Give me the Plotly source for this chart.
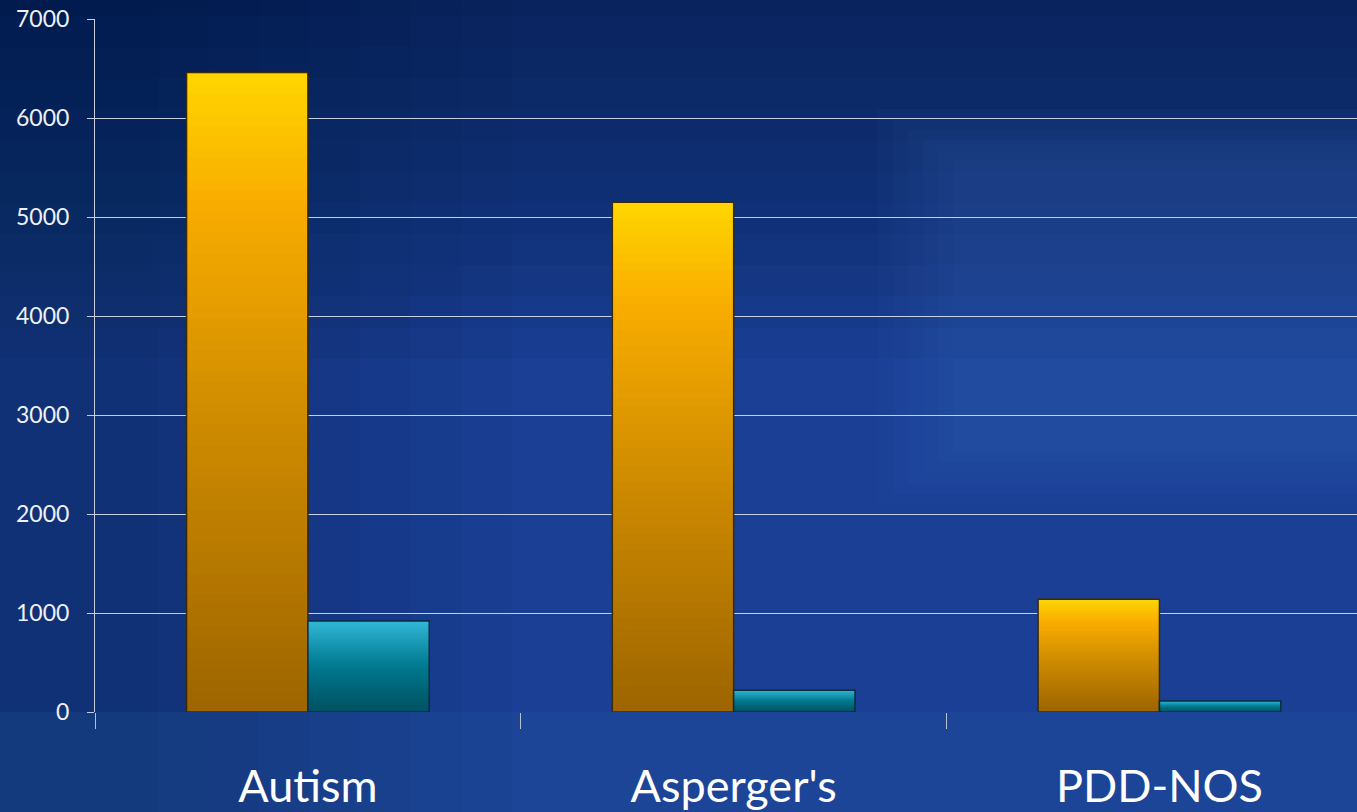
import plotly.graph_objects as go

categories = ["Autism", "Asperger's", "PDD-NOS"]
series_a = [6460, 5150, 1140]   # gold bars
series_b = [920, 220, 110]      # teal bars
y_ticks = [0, 1000, 2000, 3000, 4000, 5000, 6000, 7000]

W, H = 1357, 812
BAR_W = 0.285
STEPS = 60


def lerp(c1, c2, t):
    return tuple(int(round(a + (b - a) * t)) for a, b in zip(c1, c2))


def grad(stops, t):
    for (p0, c0), (p1, c1) in zip(stops, stops[1:]):
        if p0 <= t <= p1:
            return lerp(c0, c1, (t - p0) / (p1 - p0) if p1 > p0 else 0)
    return stops[-1][1]


gold_stops = [(0.0, (156, 100, 0)), (0.45, (205, 138, 0)), (0.8, (248, 172, 0)), (1.0, (255, 212, 0))]
teal_stops = [(0.0, (0, 80, 96)), (0.5, (0, 120, 142)), (1.0, (48, 182, 214))]

fig = go.Figure()


def add_gradient_bars(values, stops, offset, edge):
    for k in range(STEPS, 0, -1):
        frac = k / STEPS
        r, g, b = grad(stops, frac)
        fig.add_trace(go.Bar(
            x=categories, y=[v * frac for v in values],
            offset=offset, width=BAR_W,
            marker=dict(color=f"rgb({r},{g},{b})", line=dict(width=0)),
            hoverinfo="skip", showlegend=False,
        ))
    fig.add_trace(go.Bar(
        x=categories, y=values, offset=offset, width=BAR_W,
        marker=dict(color="rgba(0,0,0,0)", line=dict(color=edge, width=1.5)),
        showlegend=False,
    ))


add_gradient_bars(series_a, gold_stops, -BAR_W, "#3a2a05")
add_gradient_bars(series_b, teal_stops, 0.0, "#0a2c3c")

# soft background: stacked translucent bands
shapes = []
for i in range(12):
    shapes.append(dict(type="rect", xref="paper", yref="paper", x0=-0.1, x1=1.0,
                       y0=1.05 - (i + 1) * 0.045, y1=1.05,
                       fillcolor="rgba(5,18,55,0.06)", line_width=0, layer="below"))
for i in range(8):
    shapes.append(dict(type="rect", xref="paper", yref="paper", x0=-0.1, x1=0.05 + i * 0.04,
                       y0=-0.2, y1=1.05,
                       fillcolor="rgba(5,18,60,0.04)", line_width=0, layer="below"))
for i in range(6):
    shapes.append(dict(type="rect", xref="paper", yref="paper",
                       x0=0.62 + i * 0.012, x1=1.0, y0=0.3 + i * 0.015, y1=0.87 - i * 0.015,
                       fillcolor="rgba(80,140,210,0.04)", line_width=0, layer="below"))
shapes.append(dict(type="rect", xref="paper", yref="paper", x0=-0.1, x1=1.0, y0=-0.2, y1=0.0,
                   fillcolor="rgba(40,100,160,0.18)", line_width=0, layer="below"))

fig.update_layout(
    width=W, height=H,
    margin=dict(l=95, r=0, t=19, b=98),
    barmode="overlay",
    paper_bgcolor="#1a3f95",
    plot_bgcolor="rgba(0,0,0,0)",
    font=dict(family="Lato, Open Sans, sans-serif", color="#f2f4f8"),
    shapes=shapes,
    showlegend=False,
)

fig.update_xaxes(
    range=[-0.5, 2.464],
    showgrid=False,
    showline=False,
    ticks="outside", tickson="boundaries", ticklen=16, tickcolor="#b8c0d0", tickwidth=1,
    tickfont=dict(size=45, color="#ffffff"),
    ticklabelstandoff=44,
    zeroline=False,
)
fig.update_yaxes(
    range=[0, 7000],
    tickvals=y_ticks,
    showgrid=True, gridcolor="rgba(230,235,245,0.85)", gridwidth=1,
    showline=True, linecolor="#c8cede", linewidth=1,
    ticks="outside", ticklen=7, tickcolor="#c8cede",
    tickfont=dict(size=23, color="#eef1f6"),
    ticklabelstandoff=13,
    zeroline=False,
)

fig.write_html("out.html", config={"displayModeBar": False},
               post_script="document.body.style.margin='0';document.body.style.background='#1a3f95';")
